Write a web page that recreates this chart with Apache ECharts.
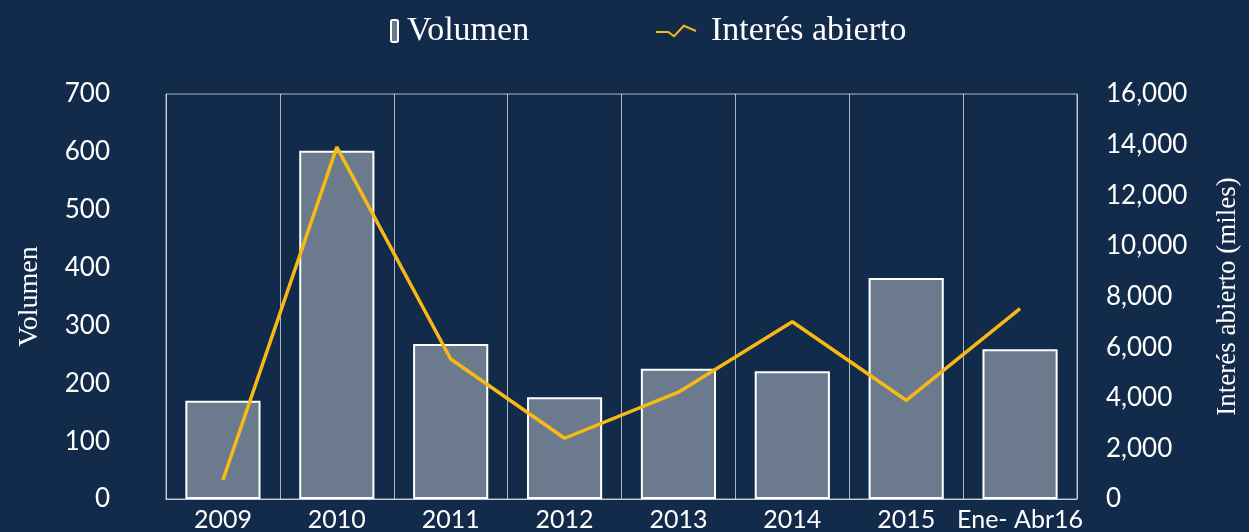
<!DOCTYPE html>
<html>
<head>
<meta charset="utf-8">
<script src="https://cdn.jsdelivr.net/npm/echarts@6/dist/echarts.min.js"></script>
<style>
  html, body { margin: 0; padding: 0; background: #132b4a; }
  #chart { width: 1249px; height: 532px; }
</style>
</head>
<body>
<div id="chart"></div>
<script>
// categorias y valores
const categories = ['2009', '2010', '2011', '2012', '2013', '2014', '2015', 'Ene- Abr16'];
const volumen = [170, 602, 268, 176, 225, 221, 382, 259];
const interesAbierto = [750, 13900, 5530, 2400, 4220, 7000, 3900, 7520];
const leftTicks = { min: 0, max: 700, interval: 100 };
const rightTicks = { min: 0, max: 16000, interval: 2000 };

const gridColor = 'rgba(255,255,255,0.65)';
const lineColor = '#f7b916';
const serif = '"Liberation Serif", "DejaVu Serif", serif';
const sans = 'Lato, "Noto Sans", sans-serif';

const myChart = echarts.init(document.getElementById('chart'));
const option = {
  backgroundColor: '#132b4a',
  animation: false,
  legend: [
    {
      data: ['Volumen'],
      left: 385,
      top: 9,
      itemWidth: 7,
      itemHeight: 22,
      itemGap: 0,
      textStyle: { color: '#fff', fontFamily: serif, fontSize: 34, padding: [0, 0, 0, 4] }
    },
    {
      data: [{
        name: 'Interés abierto',
        icon: 'path://M0,18 L35,18 L52,30 L80,0 L115,15',
        itemStyle: { color: 'transparent', borderColor: lineColor, borderWidth: 2 }
      }],
      left: 650,
      top: 9,
      itemWidth: 40,
      itemHeight: 12,
      textStyle: { color: '#fff', fontFamily: serif, fontSize: 34, padding: [0, 0, 0, 10] }
    }
  ],
  grid: {
    left: 166,
    right: 168,
    top: 94,
    bottom: 33,
    show: true,
    borderColor: gridColor,
    borderWidth: 1
  },
  xAxis: {
    type: 'category',
    data: categories,
    axisLine: { lineStyle: { color: gridColor } },
    axisTick: { show: false },
    axisLabel: { color: '#fff', fontFamily: sans, fontSize: 25, margin: 8, interval: 0 },
    splitLine: { show: true, lineStyle: { color: gridColor, width: 1 } }
  },
  yAxis: [
    {
      type: 'value',
      min: leftTicks.min,
      max: leftTicks.max,
      interval: leftTicks.interval,
      name: 'Volumen',
      nameLocation: 'middle',
      nameRotate: 90,
      nameGap: 122,
      nameTextStyle: { color: '#fff', fontFamily: serif, fontSize: 28 },
      axisLine: { show: false },
      axisTick: { show: false },
      splitLine: { show: false },
      axisLabel: { color: '#fff', fontFamily: sans, fontSize: 26, margin: 56 }
    },
    {
      type: 'value',
      min: rightTicks.min,
      max: rightTicks.max,
      interval: rightTicks.interval,
      name: 'Interés abierto (miles)',
      nameLocation: 'middle',
      nameRotate: 90,
      nameGap: 137,
      nameTextStyle: { color: '#fff', fontFamily: serif, fontSize: 27 },
      axisLine: { show: false },
      axisTick: { show: false },
      splitLine: { show: false },
      axisLabel: {
        color: '#fff',
        fontFamily: sans,
        fontSize: 26,
        margin: 29,
        formatter: function (v) { return v.toLocaleString('en-US'); }
      }
    }
  ],
  series: [
    {
      name: 'Volumen',
      type: 'bar',
      data: volumen,
      barWidth: '66%',
      itemStyle: { color: '#6b7a8c', borderColor: '#ffffff', borderWidth: 2 }
    },
    {
      name: 'Interés abierto',
      type: 'line',
      yAxisIndex: 1,
      data: interesAbierto,
      symbol: 'none',
      lineStyle: { color: lineColor, width: 3.5 },
      itemStyle: { color: lineColor }
    }
  ]
};
myChart.setOption(option);
</script>
</body>
</html>
